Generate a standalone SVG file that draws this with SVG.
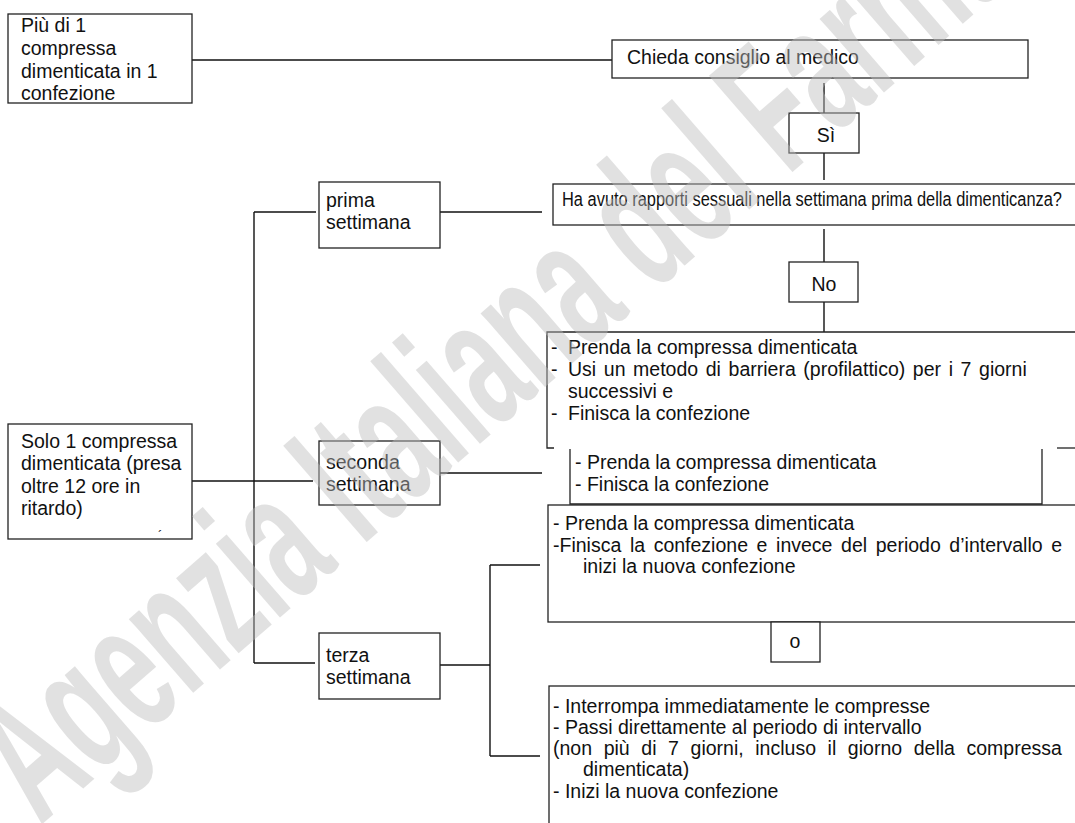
<svg xmlns="http://www.w3.org/2000/svg" width="1075" height="823" viewBox="0 0 1075 823">
<style>
.box{fill:#fff;stroke:#222;stroke-width:1.3}
.ln{stroke:#111;stroke-width:1.4;fill:none}
.t{font-family:"Liberation Sans",Arial,sans-serif;font-size:19.5px;fill:#111}
.wm{font-family:"Liberation Sans",Arial,sans-serif;font-size:185px;font-weight:bold;fill:#bcbcbc;fill-opacity:0.45}
</style>
<rect width="1075" height="823" fill="#fff"/>
<g id="connectors">
<line class="ln" x1="192" y1="60" x2="612" y2="60"/>
<line class="ln" x1="824" y1="83" x2="824" y2="113"/>
<line class="ln" x1="824" y1="153" x2="824" y2="180"/>
<line class="ln" x1="824" y1="229" x2="824" y2="262"/>
<line class="ln" x1="824" y1="302" x2="824" y2="332"/>
<line class="ln" x1="254" y1="212" x2="254" y2="663"/>
<line class="ln" x1="254" y1="212" x2="316" y2="212"/>
<line class="ln" x1="440" y1="212" x2="542" y2="212"/>
<line class="ln" x1="192" y1="481" x2="313" y2="481"/>
<line class="ln" x1="440" y1="473" x2="542" y2="473"/>
<line class="ln" x1="254" y1="663" x2="315" y2="663"/>
<line class="ln" x1="440" y1="665" x2="490" y2="665"/>
<line class="ln" x1="490" y1="565" x2="490" y2="756"/>
<line class="ln" x1="490" y1="565" x2="540" y2="565"/>
<line class="ln" x1="490" y1="756" x2="540" y2="756"/>
</g>
<g id="n-piu">
<rect class="box" x="8" y="14" width="184" height="89"/>
<text class="t" x="21" y="32">Più di 1</text>
<text class="t" x="21" y="55">compressa</text>
<text class="t" x="21" y="78">dimenticata in 1</text>
<text class="t" x="21" y="100">confezione</text>
</g>
<g id="n-chieda">
<rect class="box" x="612" y="40" width="416" height="38"/>
<text class="t" x="627" y="64">Chieda consiglio al medico</text>
</g>
<g id="n-si">
<rect class="box" x="789" y="113" width="70" height="40"/>
<text class="t" x="826" y="142" text-anchor="middle">Sì</text>
</g>
<g id="n-haavuto">
<rect class="box" x="553" y="184" width="540" height="41"/>
<text class="t" x="562" y="206" textLength="500" lengthAdjust="spacingAndGlyphs">Ha avuto rapporti sessuali nella settimana prima della dimenticanza?</text>
</g>
<g id="n-no">
<rect class="box" x="789" y="262" width="69" height="40"/>
<text class="t" x="824" y="291" text-anchor="middle">No</text>
</g>
<g id="n-prima">
<rect class="box" x="319" y="182" width="121" height="66"/>
<text class="t" x="326" y="207">prima</text>
<text class="t" x="326" y="229">settimana</text>
</g>
<g id="n-seconda">
<rect class="box" x="319" y="441" width="121" height="64"/>
<text class="t" x="326" y="469">seconda</text>
<text class="t" x="326" y="491">settimana</text>
</g>
<g id="n-terza">
<rect class="box" x="319" y="633" width="121" height="66"/>
<text class="t" x="326" y="662">terza</text>
<text class="t" x="326" y="684">settimana</text>
</g>
<g id="n-solo">
<rect class="box" x="8" y="424" width="184" height="115"/>
<text class="t" x="21" y="448">Solo 1 compressa</text>
<text class="t" x="21" y="470">dimenticata (presa</text>
<text class="t" x="21" y="493">oltre 12 ore in</text>
<text class="t" x="21" y="515">ritardo)</text>
<text class="t" x="158" y="540" style="font-size:13px">´</text>
</g>
<g id="n-boxA">
<polyline class="ln" points="1080,332 547,332 547,448 554,448" style="stroke:#222;stroke-width:1.3"/>
<line class="ln" x1="1057" y1="448" x2="1080" y2="448" style="stroke:#222;stroke-width:1.3"/>
<text class="t" x="551" y="354">-</text>
<text class="t" x="568" y="354">Prenda la compressa dimenticata</text>
<text class="t" x="551" y="376">-</text>
<text class="t" x="568" y="376" word-spacing="2.2">Usi un metodo di barriera (profilattico) per i 7 giorni</text>
<text class="t" x="568" y="398">successivi e</text>
<text class="t" x="551" y="420">-</text>
<text class="t" x="568" y="420">Finisca la confezione</text>
</g>
<g id="n-boxB">
<polyline class="ln" points="570,449 570,504 1042,504 1042,449" style="stroke:#222;stroke-width:1.3"/>
<text class="t" x="575" y="469">- Prenda la compressa dimenticata</text>
<text class="t" x="575" y="491">- Finisca la confezione</text>
</g>
<g id="n-boxC">
<rect class="box" x="548" y="505" width="540" height="117"/>
<text class="t" x="553" y="530">- Prenda la compressa dimenticata</text>
<text class="t" x="553" y="552" word-spacing="3.2">-Finisca la confezione e invece del periodo d’intervallo e</text>
<text class="t" x="583" y="573">inizi la nuova confezione</text>
</g>
<g id="n-o">
<rect class="box" x="771" y="622" width="49" height="40"/>
<text class="t" x="795" y="648" text-anchor="middle">o</text>
</g>
<g id="n-boxD">
<rect class="box" x="549" y="686" width="540" height="150"/>
<text class="t" x="553" y="713">- Interrompa immediatamente le compresse</text>
<text class="t" x="553" y="734">- Passi direttamente al periodo di intervallo</text>
<text class="t" x="553" y="755" word-spacing="6.2">(non più di 7 giorni, incluso il giorno della compressa</text>
<text class="t" x="583" y="776">dimenticata)</text>
<text class="t" x="553" y="798">- Inizi la nuova confezione</text>
</g>
<g id="watermark">
<text class="wm" transform="translate(40,826) rotate(-41) scale(0.56,1)">Agenzia Italiana del Farmaco</text>
</g>
</svg>
